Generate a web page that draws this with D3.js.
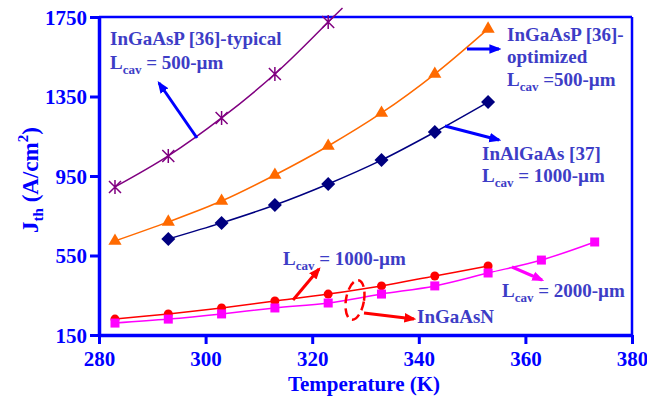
<!DOCTYPE html>
<html>
<head>
<meta charset="utf-8">
<script src="https://cdn.jsdelivr.net/npm/d3@7"></script>
<style>
  body { margin: 0; background: #fff; }
  svg text { font-family: "Liberation Serif", "Times New Roman", "DejaVu Serif", serif !important; font-weight: bold; }
</style>
</head>
<body>
<div id="chart"></div>
<script>
// temperatures (K)
const tempsA = [283, 293, 303, 313, 323]
const tempsB = [283, 293, 303, 313, 323, 333, 343, 353]
const tempsC = [293, 303, 313, 323, 333, 343, 353]
const tempsD = [283, 293, 303, 313, 323, 333, 343, 353, 363, 373]

// Jth values (A/cm^2)
const typical = [895, 1051, 1242, 1463, 1725]
const optimized = [623, 719, 824, 955, 1101, 1267, 1463, 1690]
const inalgaas = [633, 714, 804, 910, 1030, 1171, 1322]
const ingaasn1000 = [230, 256, 286, 321, 356, 397, 447, 497]
const ingaasn2000 = [210, 230, 256, 286, 311, 356, 397, 462, 527, 618]

const xTicks = [280, 300, 320, 340, 360, 380]
const yTicks = [150, 550, 950, 1350, 1750]

const W = 647, H = 399
const margin = { top: 17, right: 15, bottom: 64, left: 99 }
const axisBlue = '#0000ff'
const noteBlue = '#3d3dc6'

const svg = d3.select('#chart').append('svg')
  .attr('width', W).attr('height', H)

const x = d3.scaleLinear().domain([280, 380]).range([margin.left, W - margin.right])
const y = d3.scaleLinear().domain([150, 1750]).range([H - margin.bottom, margin.top])

// frame top/right
svg.append('line').attr('x1', x(280)).attr('x2', x(380)).attr('y1', y(1750)).attr('y2', y(1750))
  .attr('stroke', axisBlue).attr('stroke-width', 2.5)
svg.append('line').attr('x1', x(380)).attr('x2', x(380)).attr('y1', y(1750)).attr('y2', y(150))
  .attr('stroke', axisBlue).attr('stroke-width', 2.5)

const xAxis = svg.append('g')
  .attr('transform', `translate(0,${y(150)})`)
  .call(d3.axisBottom(x).tickValues(xTicks).tickFormat(d3.format('d')).tickSize(9).tickPadding(7).tickSizeOuter(0))
const yAxis = svg.append('g')
  .attr('transform', `translate(${x(280)},0)`)
  .call(d3.axisLeft(y).tickValues(yTicks).tickFormat(d3.format('d')).tickSize(9).tickPadding(3).tickSizeOuter(0))

;[xAxis, yAxis].forEach(g => {
  g.select('.domain').attr('stroke', axisBlue).attr('stroke-width', 3.5)
  g.selectAll('.tick line').attr('stroke', axisBlue).attr('stroke-width', 3)
  g.selectAll('.tick text').attr('fill', axisBlue).style('font-size', '21px')
})
yAxis.selectAll('.tick text').attr('dy', '0.34em')

// axis titles
svg.append('text').attr('x', 364).attr('y', 391).attr('text-anchor', 'middle')
  .attr('fill', axisBlue).style('font-size', '21px').text('Temperature (K)')

const yt = svg.append('text').attr('transform', 'translate(38,180) rotate(-90)')
  .attr('text-anchor', 'middle').attr('fill', axisBlue).style('font-size', '23px')
yt.append('tspan').text('J')
yt.append('tspan').attr('dy', 5).style('font-size', '15px').text('th')
yt.append('tspan').attr('dy', -5).text(' (A/cm')
yt.append('tspan').attr('dy', -10).style('font-size', '15px').text('2')
yt.append('tspan').attr('dy', 10).text(')')

// series
const series = [
  { t: tempsA, v: typical, color: '#800080', marker: 'star' },
  { t: tempsB, v: optimized, color: '#ff6a00', marker: 'tri' },
  { t: tempsC, v: inalgaas, color: '#000080', marker: 'diamond' },
  { t: tempsB, v: ingaasn1000, color: '#ff0000', marker: 'circle' },
  { t: tempsD, v: ingaasn2000, color: '#ff00ff', marker: 'square' }
]

const line = d3.line().x(d => x(d[0])).y(d => y(d[1])).curve(d3.curveCatmullRom)

series.forEach(s => {
  const pts = s.t.map((t, i) => [t, s.v[i]])
  svg.append('path').attr('d', line(pts))
    .attr('fill', 'none').attr('stroke', s.color).attr('stroke-width', 1.5)

  if (s.marker === 'star') {
    // line continues past the last point, out of the frame
    const a = pts[pts.length - 2], b = pts[pts.length - 1]
    const dx = x(b[0]) - x(a[0]), dy = y(b[1]) - y(a[1])
    const len = Math.hypot(dx, dy), ext = 20
    svg.append('line')
      .attr('x1', x(b[0])).attr('y1', y(b[1]))
      .attr('x2', x(b[0]) + dx / len * ext).attr('y2', y(b[1]) + dy / len * ext)
      .attr('stroke', s.color).attr('stroke-width', 1.5)
  }

  const g = svg.append('g').selectAll('g').data(pts).join('g')
    .attr('transform', d => `translate(${x(d[0])},${y(d[1])})`)
  if (s.marker === 'star') {
    g.append('path').attr('d', 'M-6,-6L6,6M-6,6L6,-6M0,-7L0,7')
      .attr('stroke', s.color).attr('stroke-width', 1.5).attr('fill', 'none')
  } else if (s.marker === 'tri') {
    g.append('path').attr('d', d3.symbol(d3.symbolTriangle, 75)).attr('fill', s.color)
  } else if (s.marker === 'diamond') {
    g.append('path').attr('d', 'M0,-7L7,0L0,7L-7,0Z').attr('fill', s.color)
  } else if (s.marker === 'circle') {
    g.append('circle').attr('r', 4.5).attr('fill', s.color)
  } else {
    g.append('rect').attr('x', -4.5).attr('y', -4.5).attr('width', 9).attr('height', 9).attr('fill', s.color)
  }
})

// arrows
const defs = svg.append('defs')
function marker(id, color) {
  defs.append('marker').attr('id', id).attr('viewBox', '0 0 10 10')
    .attr('refX', 8).attr('refY', 5).attr('markerWidth', 4).attr('markerHeight', 4)
    .attr('orient', 'auto').attr('markerUnits', 'strokeWidth')
    .append('path').attr('d', 'M0,1L10,5L0,9Z').attr('fill', color)
}
marker('ab', '#0000ff')
marker('ar', '#ff0000')
marker('am', '#ff00ff')

function arrow(x1, y1, x2, y2, color, id) {
  svg.append('line').attr('x1', x1).attr('y1', y1).attr('x2', x2).attr('y2', y2)
    .attr('stroke', color).attr('stroke-width', 3).attr('marker-end', `url(#${id})`)
}
arrow(197, 138, 159, 83, '#0000ff', 'ab')
arrow(467, 49, 499, 49, '#0000ff', 'ab')
arrow(445, 126, 499, 140, '#0000ff', 'ab')
arrow(293, 300, 319, 269, '#ff0000', 'ar')
arrow(364, 313, 414, 319, '#ff0000', 'ar')
arrow(512, 267, 542, 280, '#ff00ff', 'am')

svg.append('ellipse').attr('cx', 0).attr('cy', 0).attr('rx', 9).attr('ry', 20)
  .attr('transform', 'translate(355,300) rotate(10)')
  .attr('fill', 'none').attr('stroke', '#ff0000').attr('stroke-width', 2.5)
  .attr('stroke-dasharray', '9,5')

// annotations
function note(xp, yp, parts) {
  const t = svg.append('text').attr('x', xp).attr('y', yp).attr('fill', noteBlue).style('font-size', '19px')
  parts.forEach(p => {
    if (p.sub) t.append('tspan').attr('dy', 5).style('font-size', '13px').text(p.sub)
    else t.append('tspan').attr('dy', p.up ? -5 : 0).text(p.s)
  })
}
note(110, 45, [{ s: 'InGaAsP [36]-typical' }])
note(110, 69, [{ s: 'L' }, { sub: 'cav' }, { s: ' = 500-\u00b5m', up: true }])
note(507, 41, [{ s: 'InGaAsP [36]-' }])
note(507, 63, [{ s: 'optimized' }])
note(507, 86, [{ s: 'L' }, { sub: 'cav' }, { s: ' =500-\u00b5m', up: true }])
note(482, 160, [{ s: 'InAlGaAs [37]' }])
note(482, 182, [{ s: 'L' }, { sub: 'cav' }, { s: ' = 1000-\u00b5m', up: true }])
note(283, 265, [{ s: 'L' }, { sub: 'cav' }, { s: ' = 1000-\u00b5m', up: true }])
note(502, 297, [{ s: 'L' }, { sub: 'cav' }, { s: ' = 2000-\u00b5m', up: true }])
note(417, 323, [{ s: 'InGaAsN' }])
</script>
</body>
</html>
